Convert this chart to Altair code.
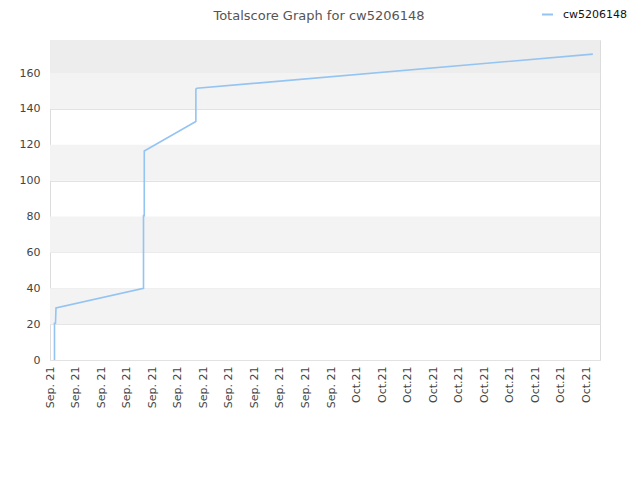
import json
import altair as alt
import pandas as pd

# ---- data ----
x_pos = [0.176, 0.176, 0.215, 0.235, 3.66, 3.66, 3.69, 3.69, 5.71, 5.71, 5.75, 21.25]
scores = [0, 20.5, 20.5, 29, 40, 80.5, 80.5, 116.5, 133, 151, 151.5, 170.5]
series_name = "cw5206148"
title_text = ["Totalscore Graph for cw5206148"]
tick_labels = ["Sep. 21"] * 12 + ["Oct.21"] * 10
y_ticks = [0, 20, 40, 60, 80, 100, 120, 140, 160]
band_lo = [20, 60, 100, 140, 160]
band_hi = [40, 80, 120, 160, 178.4]
band_kind = ["a", "a", "a", "a", "b"]

df = pd.DataFrame({"x": x_pos, "score": scores, "series": series_name, "order": range(len(x_pos))})
bands = pd.DataFrame({"lo": band_lo, "hi": band_hi, "kind": band_kind})
titles = pd.DataFrame({"t": title_text})

xdom = [0, 21.53]
ydom = [0, 178.4]
xscale = alt.Scale(domain=xdom, nice=False, zero=False)
yscale = alt.Scale(domain=ydom, nice=False)

yaxis = alt.Axis(values=y_ticks, ticks=False, domain=False,
                 gridColor="#e2e2e2", labelFontSize=11, labelColor="#444",
                 labelPadding=10, labelFont="DejaVu Sans", labelOverlap=False,
                 labelFlush=False)

band_layer = alt.Chart(bands).mark_rect().encode(
    y=alt.Y("lo:Q", scale=yscale, axis=yaxis, title=None),
    y2="hi:Q",
    fill=alt.Fill("kind:N", scale=alt.Scale(domain=["a", "b"], range=["#f3f3f3", "#ededed"]), legend=None),
)

label_expr = json.dumps(tick_labels) + "[round(datum.value)]"

line_layer = alt.Chart(df).mark_line(strokeWidth=1.6, interpolate="linear").encode(
    x=alt.X("x:Q", scale=xscale, title=None,
            axis=alt.Axis(values=list(range(len(tick_labels))), labelExpr=label_expr,
                          labelAngle=270, labelAlign="right", labelBaseline="middle",
                          labelFontSize=11, labelColor="#444", labelPadding=6,
                          ticks=False, grid=False, domain=False, labelFont="DejaVu Sans",
                          labelOverlap=False, labelFlush=False)),
    y=alt.Y("score:Q", scale=yscale, title=None, axis=yaxis),
    order="order:Q",
    color=alt.Color("series:N", scale=alt.Scale(domain=[series_name], range=["#94c4f2"]),
                    legend=alt.Legend(title=None, orient="none", legendX=491, legendY=-32,
                                      symbolType="stroke", symbolSize=121, symbolStrokeWidth=2,
                                      labelOffset=9,
                                      labelFontSize=11, labelColor="#111", labelFont="DejaVu Sans")),
)

title_layer = alt.Chart(titles).mark_text(
    fontSize=13, color="#555", font="DejaVu Sans", align="center", baseline="alphabetic"
).encode(x=alt.value(269), y=alt.value(-20), text="t:N")

chart = alt.layer(band_layer, line_layer, title_layer).resolve_scale(color="independent").properties(
    width=550, height=320,
    autosize=alt.AutoSizeParams(type="none"),
    padding={"left": 42, "top": 32, "right": 30, "bottom": 100},
).configure_view(stroke="#dcdcdc", strokeWidth=1)

chart.save("out.html", embed_options={"renderer": "svg", "actions": False})
